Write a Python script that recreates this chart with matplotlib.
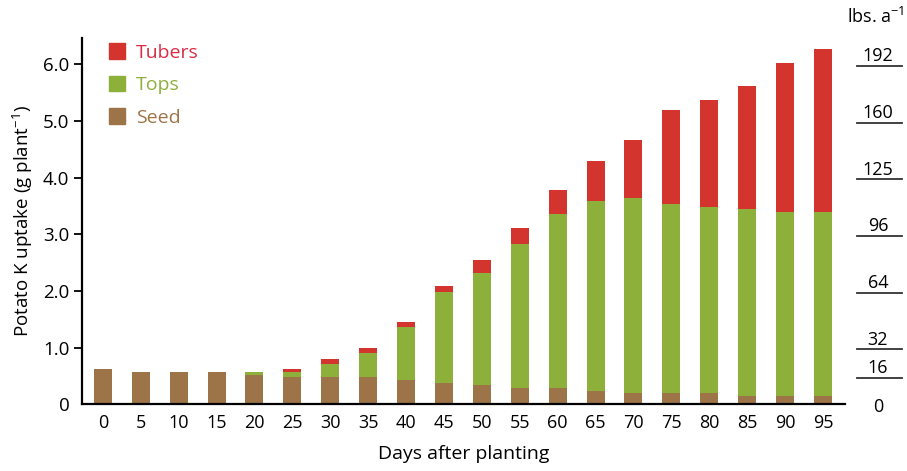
import matplotlib
matplotlib.use("Agg")
import matplotlib.pyplot as plt
import matplotlib.transforms as mtransforms
from matplotlib.patches import Patch
import numpy as np

plt.rcParams['font.family'] = ['Open Sans', 'DejaVu Sans']
plt.rcParams['mathtext.fontset'] = 'custom'
plt.rcParams['mathtext.rm'] = 'Open Sans'
plt.rcParams['mathtext.it'] = 'Open Sans'

days = [0, 5, 10, 15, 20, 25, 30, 35, 40, 45, 50, 55, 60, 65, 70, 75, 80, 85, 90, 95]
seed = [0.62, 0.57, 0.57, 0.57, 0.52, 0.48, 0.48, 0.48, 0.43, 0.38,
        0.34, 0.29, 0.29, 0.24, 0.195, 0.195, 0.195, 0.15, 0.15, 0.15]
tops = [0.0, 0.0, 0.0, 0.0, 0.05, 0.09, 0.23, 0.42, 0.94, 1.61,
        1.98, 2.54, 3.06, 3.35, 3.445, 3.345, 3.295, 3.30, 3.25, 3.25]
tubers = [0.0, 0.0, 0.0, 0.0, 0.0, 0.05, 0.09, 0.10, 0.09, 0.09,
          0.23, 0.28, 0.43, 0.70, 1.02, 1.65, 1.88, 2.16, 2.63, 2.87]

y_ticks = [0, 1, 2, 3, 4, 5, 6]
y_ticklabels = ['0', '1.0', '2.0', '3.0', '4.0', '5.0', '6.0']
lbs_positions = [6, 5, 4, 3, 2, 1, 0.5, 0]
lbs_labels = ['192', '160', '125', '96', '64', '32', '16', '0']

c_seed = '#9C7447'
c_tops = '#8DB03A'
c_tub = '#D3342E'
c_tub_text = '#D92B45'

fig = plt.figure(figsize=(9.07, 4.71), dpi=100)
ax = fig.add_axes([0.0904, 0.1414, 0.9316 - 0.0904, 0.919 - 0.1414])

x = np.arange(len(days))
seed_a = np.array(seed)
tops_a = np.array(tops)
tub_a = np.array(tubers)
w = 0.475
ax.bar(x, seed_a, width=w, color=c_seed, linewidth=0)
ax.bar(x, tops_a, width=w, bottom=seed_a, color=c_tops, linewidth=0)
ax.bar(x, tub_a, width=w, bottom=seed_a + tops_a, color=c_tub, linewidth=0)

ax.set_xlim(-0.55, 19.58)
ax.set_ylim(0, 6.46)
ax.set_xticks(x)
ax.set_xticklabels([str(d) for d in days], fontsize=13)
ax.set_yticks(y_ticks)
ax.set_yticklabels(y_ticklabels, fontsize=13.5)
ax.tick_params(axis='x', length=0, pad=7)
ax.tick_params(axis='y', length=6, width=1.3, direction='out', pad=3)
ax.yaxis.get_major_ticks()[0].tick1line.set_visible(False)
for s in ['top', 'right']:
    ax.spines[s].set_visible(False)
for s in ['left', 'bottom']:
    ax.spines[s].set_linewidth(1.6)

ax.set_xlabel('Days after planting', fontsize=14, labelpad=9)
ax.set_ylabel('Potato K uptake (g plant$^{-1}$)', fontsize=13.5, labelpad=6)

handles = [Patch(color=c_tub), Patch(color=c_tops), Patch(color=c_seed)]
leg = ax.legend(handles, ['Tubers', 'Tops', 'Seed'], loc='upper left',
                bbox_to_anchor=(0.02, 1.018), frameon=False, fontsize=14,
                handlelength=0.85, handleheight=0.85, handletextpad=0.55,
                labelspacing=0.72, borderaxespad=0.2)
for t, c in zip(leg.get_texts(), [c_tub_text, c_tops, c_seed]):
    t.set_color(c)

# right-hand lbs/acre scale
tr = mtransforms.blended_transform_factory(fig.transFigure, ax.transData)
for pos, lab in zip(lbs_positions, lbs_labels):
    if lab == '0':
        ax.text(0.968, pos - 0.05, lab, transform=tr, ha='center', va='center',
                fontsize=13, clip_on=False)
    else:
        ax.text(0.968, pos - 0.02, lab, transform=tr, ha='center', va='bottom',
                fontsize=13, clip_on=False)
        ax.plot([0.945, 0.995], [pos - 0.03, pos - 0.03], transform=tr,
                color='#333333', lw=1.3, clip_on=False)
fig.text(0.965, 0.965, 'lbs. a$^{-1}$', ha='center', va='center', fontsize=13)

fig.savefig('out.png', dpi=100)
